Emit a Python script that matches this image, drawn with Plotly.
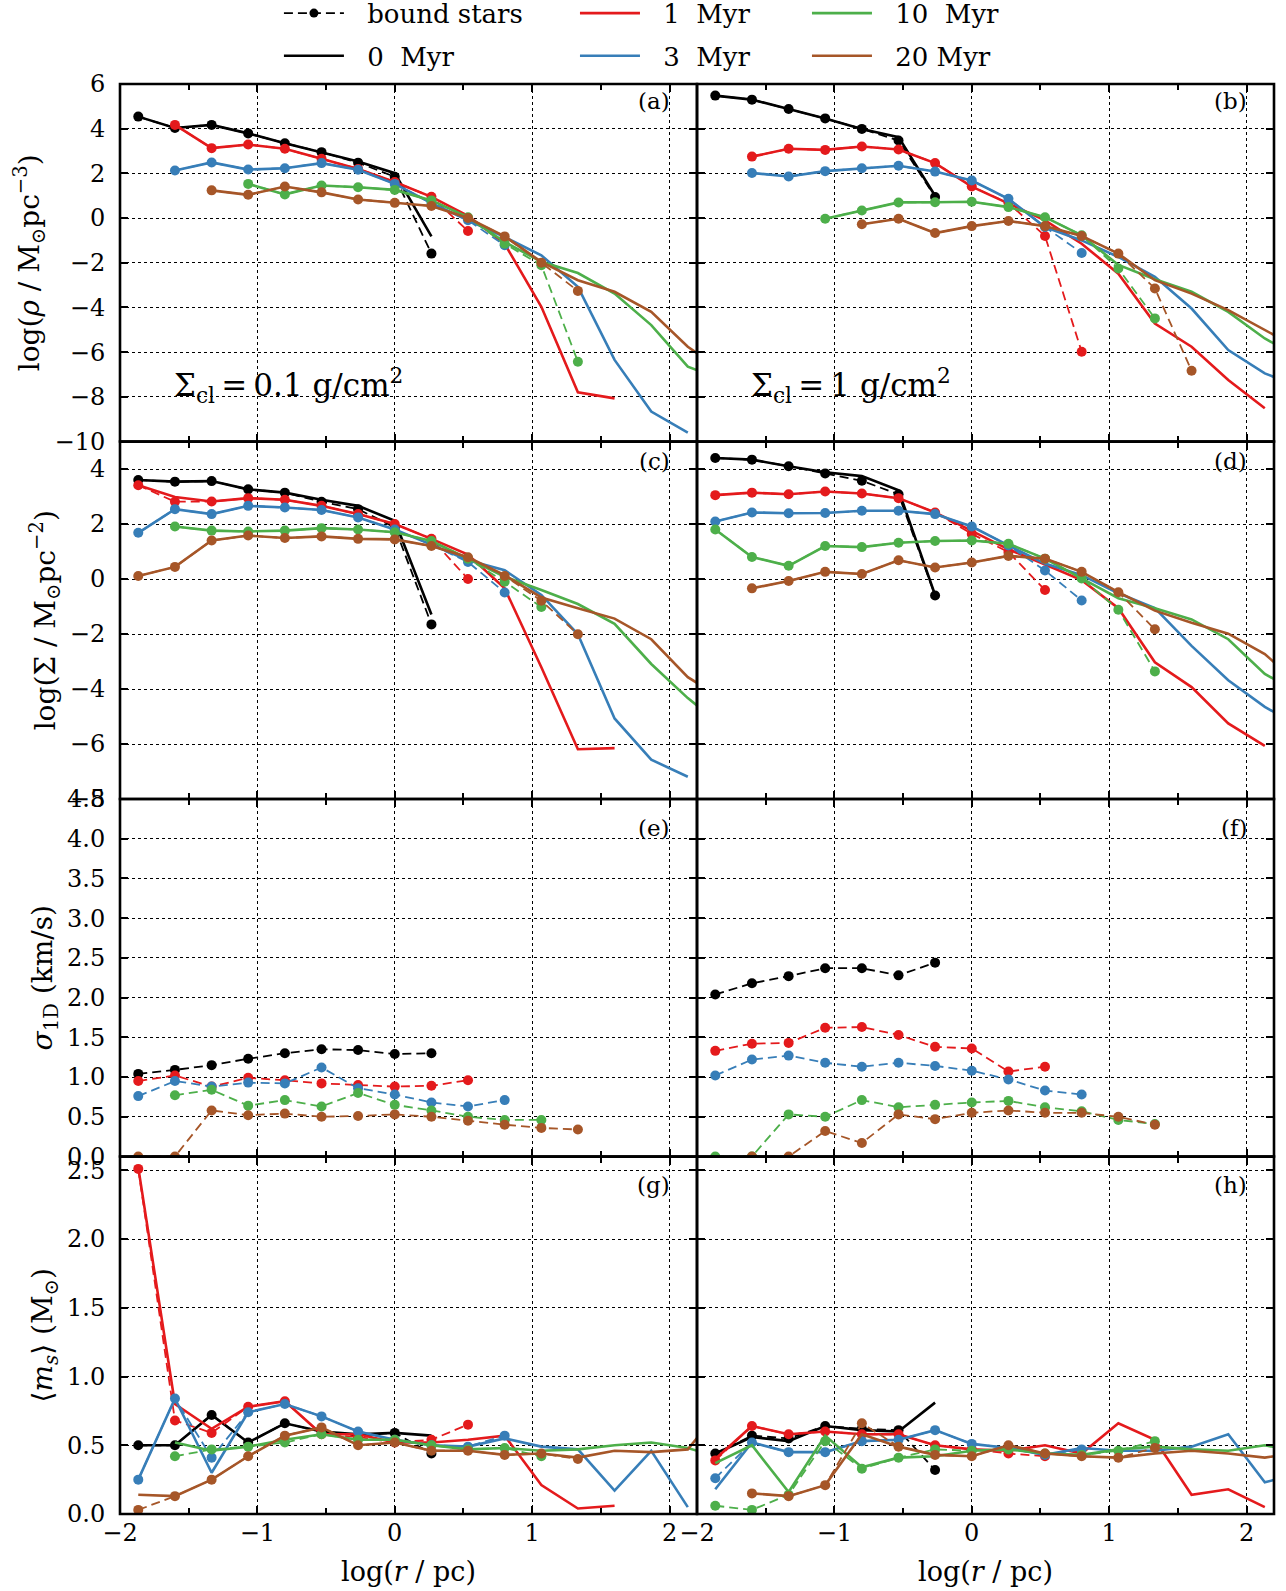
import plotly.graph_objects as go
from plotly.subplots import make_subplots

N = None
# bin centres of log(r/pc)
LOGR = [-1.867, -1.6, -1.333, -1.067, -0.8, -0.533, -0.267, 0.0, 0.267,
        0.533, 0.8, 1.067, 1.333, 1.6, 1.867, 2.133, 2.4]

SERIES = ["0", "1", "3", "10", "20"]
COLORS = {"0": "#000000", "1": "#e41a1c", "3": "#377eb8", "10": "#4daf4a", "20": "#a65628"}
LEGEND_NAMES = {"0": "0\u00a0\u00a0Myr", "1": "1\u00a0\u00a0Myr", "3": "3\u00a0\u00a0Myr",
                "10": "10\u00a0\u00a0Myr", "20": "20\u00a0Myr"}

# ---- panel (a): log rho, Sigma_cl = 0.1 ----
RHO_LO_ALL = {
    "0": [4.54, 4.03, 4.17, 3.79, 3.35, 2.95, 2.53, 2.01, -0.82],
    "1": [N, 4.17, 3.13, 3.29, 3.10, 2.65, 2.20, 1.61, 0.95, 0.10, -1.15, -3.97, -7.8, -8.07],
    "3": [N, 2.13, 2.49, 2.17, 2.23, 2.46, 2.16, 1.53, 0.67, -0.10, -0.85, -1.67, -3.08, -6.35, -8.66, -9.6],
    "10": [N, N, N, 1.53, 1.06, 1.46, 1.38, 1.26, 0.79, 0.04, -1.07, -1.96, -2.46, -3.38, -4.79, -6.65, -7.25],
    "20": [N, N, 1.24, 1.04, 1.41, 1.15, 0.83, 0.68, 0.54, 0.0, -0.82, -1.96, -2.78, -3.30, -4.20, -5.76, -6.9],
}
RHO_LO_BOUND = {
    "0": [4.54, 4.03, 4.17, 3.79, 3.35, 2.95, 2.48, 1.85, -1.59],
    "1": [N, 4.17, 3.13, 3.29, 3.10, 2.65, 2.20, 1.61, 0.95, -0.58],
    "3": [N, 2.13, 2.49, 2.17, 2.23, 2.46, 2.16, 1.53, 0.67, -0.10, -1.22],
    "10": [N, N, N, 1.53, 1.06, 1.46, 1.38, 1.26, 0.79, 0.04, -1.15, -2.11, -6.43],
    "20": [N, N, 1.24, 1.04, 1.41, 1.15, 0.83, 0.68, 0.54, 0.0, -0.82, -2.0, -3.26],
}
# ---- panel (b): log rho, Sigma_cl = 1 ----
RHO_HI_ALL = {
    "0": [5.48, 5.30, 4.88, 4.46, 3.99, 3.62, 1.0],
    "1": [N, 2.75, 3.10, 3.05, 3.20, 3.07, 2.46, 1.41, 0.67, -0.10, -1.15, -2.49, -4.72, -5.76, -7.25, -8.51],
    "3": [N, 2.02, 1.86, 2.10, 2.23, 2.34, 2.08, 1.68, 0.86, -0.40, -1.0, -1.74, -2.63, -4.05, -5.91, -6.95, -7.6],
    "10": [N, N, N, -0.03, 0.34, 0.70, 0.71, 0.73, 0.49, 0.04, -0.77, -2.1, -2.74, -3.30, -4.20, -5.39, -6.3],
    "20": [N, N, N, N, -0.28, -0.03, -0.67, -0.36, -0.13, -0.36, -0.80, -1.59, -2.78, -3.38, -4.12, -4.99, -5.9],
}
RHO_HI_BOUND = {
    "0": [5.48, 5.30, 4.88, 4.46, 3.99, 3.47, 0.94],
    "1": [N, 2.75, 3.10, 3.05, 3.20, 3.07, 2.46, 1.41, 0.67, -0.80, -5.98],
    "3": [N, 2.02, 1.86, 2.10, 2.23, 2.34, 2.08, 1.68, 0.86, -0.40, -1.56],
    "10": [N, N, N, -0.03, 0.34, 0.70, 0.71, 0.73, 0.49, 0.04, -0.77, -2.26, -4.49],
    "20": [N, N, N, N, -0.28, -0.03, -0.67, -0.36, -0.13, -0.36, -0.80, -1.59, -3.15, -6.83],
}
# ---- panel (c): log Sigma, Sigma_cl = 0.1 ----
SIG_LO_ALL = {
    "0": [3.60, 3.54, 3.56, 3.26, 3.14, 2.88, 2.66, 2.12, -1.29],
    "1": [3.41, 2.98, 2.82, 2.94, 2.88, 2.66, 2.36, 2.00, 1.46, 0.89, -0.34, -3.21, -6.19, -6.15],
    "3": [1.68, 2.54, 2.36, 2.66, 2.60, 2.51, 2.24, 1.80, 1.25, 0.68, 0.32, -0.58, -2.01, -5.07, -6.57, -7.19],
    "10": [N, 1.91, 1.76, 1.73, 1.76, 1.85, 1.80, 1.70, 1.38, 0.74, 0.08, -0.40, -0.91, -1.63, -3.09, -4.33, -5.4],
    "20": [0.11, 0.44, 1.40, 1.58, 1.49, 1.55, 1.46, 1.44, 1.20, 0.79, 0.14, -0.67, -1.06, -1.44, -2.19, -3.57, -4.4],
}
SIG_LO_BOUND = {
    "0": [3.60, 3.54, 3.56, 3.26, 3.14, 2.81, 2.54, 1.88, -1.65],
    "1": [3.41, 2.81, 2.82, 2.94, 2.88, 2.66, 2.36, 2.00, 1.46, 0.0],
    "3": [1.68, 2.54, 2.36, 2.66, 2.60, 2.51, 2.24, 1.80, 1.25, 0.62, -0.49],
    "10": [N, 1.91, 1.76, 1.73, 1.76, 1.85, 1.80, 1.70, 1.38, 0.74, -0.10, -1.02],
    "20": [0.11, 0.44, 1.40, 1.58, 1.49, 1.55, 1.46, 1.44, 1.20, 0.79, 0.11, -0.79, -2.01],
}
# ---- panel (d): log Sigma, Sigma_cl = 1 ----
SIG_HI_ALL = {
    "0": [4.40, 4.34, 4.10, 3.88, 3.74, 3.23, -0.58],
    "1": [3.05, 3.14, 3.08, 3.18, 3.11, 2.94, 2.42, 1.76, 1.08, 0.53, -0.04, -1.06, -3.03, -3.93, -5.25, -6.07],
    "3": [2.09, 2.42, 2.39, 2.40, 2.48, 2.48, 2.36, 1.91, 1.22, 0.56, 0.14, -0.52, -1.06, -2.43, -3.68, -4.65, -5.4],
    "10": [1.80, 0.80, 0.48, 1.20, 1.16, 1.32, 1.38, 1.40, 1.28, 0.74, 0.02, -0.70, -1.06, -1.47, -2.19, -3.45, -4.2],
    "20": [N, -0.34, -0.07, 0.26, 0.18, 0.68, 0.42, 0.60, 0.84, 0.74, 0.26, -0.48, -1.15, -1.59, -1.99, -2.73, -3.9],
}
SIG_HI_BOUND = {
    "0": [4.40, 4.34, 4.10, 3.84, 3.57, 3.08, -0.60],
    "1": [3.05, 3.14, 3.08, 3.18, 3.11, 2.94, 2.42, 1.64, 0.98, -0.40],
    "3": [2.09, 2.42, 2.39, 2.40, 2.48, 2.48, 2.36, 1.91, 1.22, 0.31, -0.78],
    "10": [1.80, 0.80, 0.48, 1.20, 1.16, 1.32, 1.38, 1.40, 1.28, 0.74, 0.02, -1.12, -3.36],
    "20": [N, -0.34, -0.07, 0.26, 0.18, 0.68, 0.42, 0.60, 0.84, 0.74, 0.26, -0.48, -1.83],
}
# ---- panel (e)/(f): sigma_1D of bound stars ----
VEL_LO_BOUND = {
    "0": [1.04, 1.09, 1.15, 1.23, 1.30, 1.35, 1.34, 1.29, 1.30],
    "1": [0.95, 1.02, 0.88, 0.99, 0.96, 0.92, 0.90, 0.88, 0.89, 0.96],
    "3": [0.76, 0.95, 0.88, 0.93, 0.92, 1.12, 0.86, 0.78, 0.68, 0.63, 0.71],
    "10": [N, 0.77, 0.84, 0.64, 0.71, 0.63, 0.80, 0.65, 0.58, 0.50, 0.46, 0.46],
    "20": [0.0, 0.0, 0.58, 0.52, 0.54, 0.50, 0.51, 0.53, 0.50, 0.45, 0.40, 0.36, 0.34],
}
VEL_HI_BOUND = {
    "0": [2.04, 2.18, 2.27, 2.37, 2.37, 2.28, 2.44],
    "1": [1.33, 1.42, 1.43, 1.62, 1.63, 1.53, 1.38, 1.36, 1.07, 1.13],
    "3": [1.02, 1.22, 1.27, 1.18, 1.13, 1.18, 1.14, 1.08, 0.97, 0.83, 0.78],
    "10": [0.0, 0.0, 0.53, 0.50, 0.71, 0.62, 0.65, 0.68, 0.70, 0.62, 0.57, 0.46, 0.41],
    "20": [N, 0.0, 0.0, 0.32, 0.17, 0.53, 0.47, 0.55, 0.58, 0.55, 0.55, 0.50, 0.40],
}
# ---- panel (g)/(h): mean stellar mass ----
MASS_LO_ALL = {
    "0": [0.50, 0.50, 0.72, 0.52, 0.66, 0.60, 0.58, 0.59, 0.57],
    "1": [2.52, 0.80, 0.62, 0.78, 0.82, 0.58, 0.58, 0.52, 0.52, 0.54, 0.57, 0.21, 0.04, 0.06],
    "3": [0.25, 0.84, 0.30, 0.74, 0.80, 0.71, 0.60, 0.54, 0.50, 0.49, 0.55, 0.49, 0.47, 0.17, 0.46, 0.05],
    "10": [N, 0.52, 0.46, 0.49, 0.54, 0.58, 0.54, 0.54, 0.50, 0.47, 0.48, 0.46, 0.47, 0.50, 0.52, 0.48, 0.40],
    "20": [0.14, 0.13, 0.25, 0.42, 0.57, 0.63, 0.50, 0.52, 0.46, 0.46, 0.43, 0.44, 0.41, 0.46, 0.45, 0.47, 0.80],
}
MASS_LO_BOUND = {
    "0": [0.50, 0.50, 0.72, 0.52, 0.66, 0.60, 0.57, 0.59, 0.44],
    "1": [2.51, 0.68, 0.59, 0.78, 0.82, 0.58, 0.56, 0.52, 0.54, 0.65],
    "3": [0.25, 0.84, 0.41, 0.74, 0.80, 0.71, 0.60, 0.54, 0.50, 0.49, 0.57],
    "10": [N, 0.42, 0.47, 0.49, 0.52, 0.58, 0.54, 0.54, 0.50, 0.47, 0.48, 0.42],
    "20": [0.03, 0.13, 0.25, 0.42, 0.57, 0.63, 0.50, 0.52, 0.46, 0.46, 0.43, 0.44, 0.40],
}
MASS_HI_ALL = {
    "0": [0.44, 0.56, 0.53, 0.64, 0.61, 0.60, 0.81],
    "1": [0.40, 0.64, 0.58, 0.60, 0.58, 0.58, 0.50, 0.47, 0.46, 0.50, 0.44, 0.66, 0.54, 0.14, 0.18, 0.05],
    "3": [0.18, 0.52, 0.45, 0.45, 0.53, 0.54, 0.61, 0.51, 0.48, 0.43, 0.48, 0.46, 0.46, 0.49, 0.58, 0.23, 0.30],
    "10": [0.37, 0.50, 0.16, 0.57, 0.34, 0.41, 0.42, 0.46, 0.47, 0.44, 0.43, 0.47, 0.49, 0.47, 0.46, 0.50, 0.45],
    "20": [N, 0.15, 0.13, 0.21, 0.58, 0.49, 0.43, 0.42, 0.50, 0.44, 0.42, 0.41, 0.44, 0.46, 0.44, 0.41, 0.45],
}
MASS_HI_BOUND = {
    "0": [0.44, 0.57, 0.55, 0.64, 0.62, 0.61, 0.32],
    "1": [0.39, 0.64, 0.58, 0.60, 0.58, 0.58, 0.50, 0.47, 0.44, 0.42],
    "3": [0.26, 0.52, 0.45, 0.45, 0.53, 0.54, 0.61, 0.51, 0.48, 0.43, 0.47],
    "10": [0.06, 0.03, 0.14, 0.53, 0.33, 0.41, 0.47, 0.46, 0.47, 0.44, 0.43, 0.46, 0.53],
    "20": [N, 0.15, 0.13, 0.21, 0.66, 0.49, 0.43, 0.42, 0.50, 0.44, 0.42, 0.41, 0.48],
}

PANEL_LABELS = ["(a)", "(b)", "(c)", "(d)", "(e)", "(f)", "(g)", "(h)"]
Y_TITLES = ["log(<i>ρ</i> / M<sub>⊙</sub>pc<sup>−3</sup>)",
            "log(Σ / M<sub>⊙</sub>pc<sup>−2</sup>)",
            "<i>σ</i><sub>1D</sub> (km/s)",
            "⟨<i>m<sub>s</sub></i>⟩ (M<sub>⊙</sub>)"]
Y_RANGES = [[-10, 6], [-8, 5], [0, 4.5], [0, 2.6]]
Y_DTICK = [2, 2, 0.5, 0.5]
Y_FORMAT = ["d", "d", ".1f", ".1f"]
SIGMA_CL = ["Σ<sub>cl</sub>\u2009=\u20090.1 g/cm<sup>2</sup>", "Σ<sub>cl</sub>\u2009=\u20091 g/cm<sup>2</sup>"]

PANELS = [
    (1, 1, RHO_LO_ALL, RHO_LO_BOUND), (1, 2, RHO_HI_ALL, RHO_HI_BOUND),
    (2, 1, SIG_LO_ALL, SIG_LO_BOUND), (2, 2, SIG_HI_ALL, SIG_HI_BOUND),
    (3, 1, None, VEL_LO_BOUND), (3, 2, None, VEL_HI_BOUND),
    (4, 1, MASS_LO_ALL, MASS_LO_BOUND), (4, 2, MASS_HI_ALL, MASS_HI_BOUND),
]

FONT = "DejaVu Serif"


def pad(v):
    return list(v) + [None] * (len(LOGR) - len(v))


fig = make_subplots(rows=4, cols=2, shared_xaxes=True, shared_yaxes=True,
                    horizontal_spacing=0, vertical_spacing=0)

for row, col, all_d, bound_d in PANELS:
    for s in SERIES:
        c = COLORS[s]
        if all_d is not None:
            fig.add_trace(go.Scatter(x=LOGR, y=pad(all_d[s]), mode="lines",
                                     line=dict(color=c, width=2.6),
                                     showlegend=False, hoverinfo="skip"), row=row, col=col)
        fig.add_trace(go.Scatter(x=LOGR, y=pad(bound_d[s]), mode="lines+markers",
                                 line=dict(color=c, width=1.8, dash="9px,5px"),
                                 marker=dict(color=c, size=10),
                                 showlegend=False, hoverinfo="skip"), row=row, col=col)

# legend entries (one legend per slot so the 3x2 layout matches)
LEG_SLOTS = [
    ("bound stars", "#000000", True, 0, 0),
    (LEGEND_NAMES["0"], COLORS["0"], False, 0, 1),
    (LEGEND_NAMES["1"], COLORS["1"], False, 1, 0),
    (LEGEND_NAMES["3"], COLORS["3"], False, 1, 1),
    (LEGEND_NAMES["10"], COLORS["10"], False, 2, 0),
    (LEGEND_NAMES["20"], COLORS["20"], False, 2, 1),
]
LEG_X = [0.2169, 0.4471, 0.6275]
LEG_Y = [0.9917, 0.9649]
legend_layout = {}
for k, (name, c, dashed, cx, ry) in enumerate(LEG_SLOTS):
    lname = "legend" if k == 0 else f"legend{k + 1}"
    label = "\u2002\u2009" + name
    if dashed:
        tr = go.Scatter(x=[None], y=[None], mode="lines+markers", name=label,
                        line=dict(color=c, width=1.8, dash="9px,5px"),
                        marker=dict(color=c, size=9), legend=lname, showlegend=True)
    else:
        tr = go.Scatter(x=[None], y=[None], mode="lines", name=label,
                        line=dict(color=c, width=2.6), legend=lname, showlegend=True)
    fig.add_trace(tr, row=1, col=1)
    legend_layout[lname] = dict(x=LEG_X[cx], y=LEG_Y[ry], xref="container", yref="container",
                                xanchor="left", yanchor="middle",
                                orientation="h", bgcolor="rgba(0,0,0,0)", borderwidth=0,
                                font=dict(family=FONT, size=26, color="black"),
                                itemwidth=60)

axis_common = dict(showline=True, linecolor="black", linewidth=1, mirror="allticks",
                   ticks="inside", ticklen=8, tickwidth=1.6, tickcolor="black",
                   showgrid=True, gridcolor="black", griddash="dot", gridwidth=1,
                   zeroline=False, tickfont=dict(family=FONT, size=24, color="black"))

for r in range(1, 5):
    for c in (1, 2):
        fig.update_xaxes(range=[-2, 2.2], dtick=1, tick0=0, ticklabelstandoff=-3,
                         minor=dict(dtick=0.5, tick0=0, ticks="inside", ticklen=6,
                                    tickwidth=1.6, tickcolor="black", showgrid=False),
                         row=r, col=c, **axis_common)
        fig.update_yaxes(range=Y_RANGES[r - 1], dtick=Y_DTICK[r - 1], tick0=0,
                         tickformat=Y_FORMAT[r - 1], ticklabelstandoff=9,
                         row=r, col=c, **axis_common)
    fig.update_yaxes(title=dict(text=Y_TITLES[r - 1], standoff=6,
                                font=dict(family=FONT, size=28, color="black")),
                     row=r, col=1)
for c in (1, 2):
    fig.update_xaxes(title=dict(text="log(<i>r</i> / pc)", standoff=16,
                                font=dict(family=FONT, size=27, color="black")),
                     row=4, col=c)

annotations = []
shapes = []
LABEL_Y = [0.952, 0.952, 0.945, 0.945, 0.918, 0.918, 0.92, 0.92]
for k, lab in enumerate(PANEL_LABELS):
    n = "" if k == 0 else str(k + 1)
    annotations.append(dict(text=lab, xref=f"x{n} domain", yref=f"y{n} domain",
                            x=0.957, y=LABEL_Y[k], xanchor="right", yanchor="middle",
                            showarrow=False, font=dict(family=FONT, size=23, color="black")))
    shapes.append(dict(type="rect", xref=f"x{n} domain", yref=f"y{n} domain",
                       x0=0, x1=1, y0=0, y1=1, line=dict(color="black", width=2.6),
                       fillcolor="rgba(0,0,0,0)", layer="above"))
for k, txt in enumerate(SIGMA_CL):
    n = "" if k == 0 else "2"
    annotations.append(dict(text=txt, xref=f"x{n}", yref=f"y{n}", x=-1.62, y=-7.5,
                            xanchor="left", yanchor="middle", showarrow=False,
                            font=dict(family=FONT, size=31, color="black")))

fig.update_layout(width=1286, height=1591,
                  margin=dict(l=120, r=12, t=84, b=77, autoexpand=False),
                  paper_bgcolor="white", plot_bgcolor="white",
                  font=dict(family=FONT, size=24, color="black"),
                  annotations=annotations, shapes=shapes, **legend_layout)

fig.write_html("out.html", config={"displayModeBar": False},
               post_script="document.body.style.margin='0';document.body.style.overflow='hidden';")
